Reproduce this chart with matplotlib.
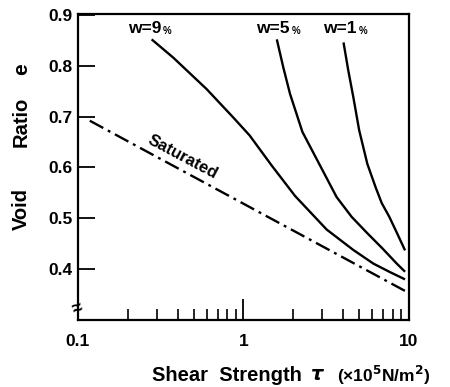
import matplotlib
matplotlib.use("Agg")
import matplotlib.pyplot as plt

plt.rcParams['font.family'] = ['Liberation Sans', 'DejaVu Sans']
plt.rcParams['font.weight'] = 'bold'

# curves: shear strength (x1e5 N/m2) vs void ratio
w9_tau = [0.279, 0.377, 0.60, 0.87, 1.09, 1.48, 2.05, 3.18, 4.6, 6.09, 7.7, 9.46]
w9_e = [0.852, 0.816, 0.754, 0.698, 0.663, 0.604, 0.544, 0.478, 0.438, 0.411, 0.394, 0.380]

w5_tau = [1.59, 1.74, 1.91, 2.27, 2.90, 3.65, 4.5, 5.55, 6.9, 8.43, 9.46]
w5_e = [0.852, 0.797, 0.745, 0.670, 0.604, 0.542, 0.503, 0.472, 0.441, 0.411, 0.395]

w1_tau = [4.02, 4.30, 4.61, 5.0, 5.6, 6.3, 6.84, 7.6, 8.43, 9.46]
w1_e = [0.846, 0.790, 0.738, 0.673, 0.607, 0.560, 0.530, 0.503, 0.472, 0.437]

sat_tau = [0.118, 10]
sat_e = [0.692, 0.353]

curve_names = ['9', '5', '1']
label_tau = [0.318, 1.91, 4.85]
label_e = 0.873

x_ticks = [0.1, 1, 10]
x_ticklabels = ['0.1', '1', '10']
y_ticks = [0.4, 0.5, 0.6, 0.7, 0.8, 0.9]
y_ticklabels = ['0.4', '0.5', '0.6', '0.7', '0.8', '0.9']


def main():
    fig = plt.figure(figsize=(4.5, 3.87), dpi=100)
    ax = fig.add_axes([0.173, 0.173, 0.736, 0.791])

    for tau, e in [(w9_tau, w9_e), (w5_tau, w5_e), (w1_tau, w1_e)]:
        ax.plot(tau, e, color='black', lw=1.7, solid_capstyle='butt',
                solid_joinstyle='round')
    ax.plot(sat_tau, sat_e, color='black', lw=1.7, dashes=(6.5, 2.2, 1.2, 2.2))

    # curve labels "w=N%"
    for name, x in zip(curve_names, label_tau):
        ax.text(x, label_e, 'w=' + name, ha='right', va='center',
                fontsize=12.5, fontweight='bold')
        ax.text(x * 1.025, label_e - 0.004, '%', ha='left', va='center',
                fontsize=7, fontweight='bold')

    ax.text(0.43, 0.62, 'Saturated', rotation=-28, ha='center', va='center',
            fontsize=12, fontweight='bold', rotation_mode='anchor')

    ax.set_xscale('log')
    ax.set_xlim(0.1, 10)
    ax.set_ylim(0.3, 0.902)
    ax.set_xticks(x_ticks)
    ax.set_xticklabels(x_ticklabels)
    ax.set_yticks(y_ticks)
    ax.set_yticklabels(y_ticklabels)

    ax.tick_params(axis='x', which='major', direction='in', length=15,
                   width=1.3, labelsize=12.5, pad=10)
    ax.tick_params(axis='x', which='minor', direction='in', length=8,
                   width=1.2)
    ax.tick_params(axis='y', direction='in', length=12, width=1.3,
                   labelsize=12.5, pad=4)
    for lab in ax.get_xticklabels() + ax.get_yticklabels():
        lab.set_fontweight('bold')
    for s in ax.spines.values():
        s.set_linewidth(1.6)

    # axis break mark on the y axis
    ax.text(0, 0.035, '≈', transform=ax.transAxes, ha='center', va='center',
            fontsize=13, fontweight='bold', rotation=20)

    fig.text(0.048, 0.460, 'Void', rotation=90, ha='center', va='center',
             fontsize=14.5, fontweight='bold')
    fig.text(0.048, 0.685, 'Ratio', rotation=90, ha='center', va='center',
             fontsize=14.5, fontweight='bold')
    fig.text(0.048, 0.822, 'e', rotation=90, ha='center', va='center',
             fontsize=15, fontweight='bold')
    fig.text(0.338, 0.031, 'Shear  Strength', ha='left', va='center',
             fontsize=14.5, fontweight='bold')
    fig.text(0.69, 0.031, r'$\tau$', ha='left', va='center',
             fontsize=14, fontfamily='DejaVu Serif')
    fig.text(0.748, 0.031, r'(×10$^{\mathbf{5}}$N/m$^{\mathbf{2}}$)',
             ha='left', va='center', fontsize=12.5, fontweight='bold')

    plt.savefig('out.png', dpi=100)


if __name__ == "__main__":
    main()
